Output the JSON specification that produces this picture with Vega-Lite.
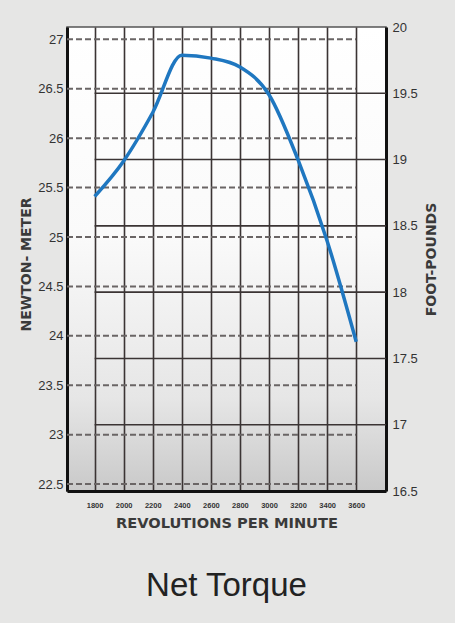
{
  "$schema": "https://vega.github.io/schema/vega-lite/v6.json",
  "width": 319,
  "height": 464,
  "autosize": {"type": "none"},
  "padding": {"left": 67, "top": 27, "right": 69, "bottom": 132},
  "background": "#e6e6e5",
  "title": {
    "text": "Net Torque",
    "orient": "bottom",
    "anchor": "middle",
    "font": "Liberation Sans",
    "fontSize": 33,
    "fontWeight": "normal",
    "color": "#222222",
    "offset": 40
  },
  "config": {
    "view": {
      "fill": {
        "gradient": "linear",
        "x1": 0, "y1": 0, "x2": 0, "y2": 1,
        "stops": [
          {"offset": 0, "color": "#ffffff"},
          {"offset": 0.45, "color": "#fafafa"},
          {"offset": 0.8, "color": "#e6e6e6"},
          {"offset": 1, "color": "#c9c9c9"}
        ]
      },
      "stroke": "#555555",
      "strokeWidth": 1.5
    },
    "axis": {
      "labelFont": "Liberation Sans",
      "labelColor": "#333333",
      "labelFontSize": 13,
      "titleFont": "DejaVu Sans",
      "titleFontWeight": "bold",
      "titleFontSize": 14,
      "titleColor": "#3a3a3a",
      "ticks": false,
      "grid": false,
      "domainColor": "#111111",
      "domainWidth": 3
    },
    "axisX": {
      "grid": true,
      "gridColor": "#3b3434",
      "gridWidth": 1.6,
      "labelFontSize": 7.5,
      "labelFontWeight": "bold",
      "labelPadding": 10,
      "titleFontSize": 14.6,
      "titlePadding": 7
    }
  },
  "resolve": {"scale": {"y": "independent"}},
  "layer": [
    {
      "data": {"values": [
        {"ftlb": 17}, {"ftlb": 17.5}, {"ftlb": 18}, {"ftlb": 18.5}, {"ftlb": 19}, {"ftlb": 19.5}
      ]},
      "mark": {"type": "rule", "color": "#3b3434", "strokeWidth": 1.6},
      "encoding": {
        "x": {
          "datum": 1800,
          "type": "quantitative",
          "scale": {"domain": [1610, 3805], "nice": false, "zero": false},
          "axis": {
            "title": "REVOLUTIONS PER MINUTE",
            "values": [1800, 2000, 2200, 2400, 2600, 2800, 3000, 3200, 3400, 3600],
            "format": "d"
          }
        },
        "x2": {"datum": 3805},
        "y": {
          "field": "ftlb",
          "type": "quantitative",
          "scale": {"domain": [16.5, 20], "nice": false, "zero": false},
          "axis": {
            "orient": "right",
            "title": "FOOT-POUNDS",
            "values": [16.5, 17, 17.5, 18, 18.5, 19, 19.5, 20],
            "format": ".1~f",
            "labelPadding": 6,
            "titlePadding": 7,
            "titleAngle": 270,
            "titleBaseline": "top"
          }
        }
      }
    },
    {
      "layer": [
        {
          "data": {"values": [
            {"nm": 22.5}, {"nm": 23}, {"nm": 23.5}, {"nm": 24}, {"nm": 24.5},
            {"nm": 25}, {"nm": 25.5}, {"nm": 26}, {"nm": 26.5}, {"nm": 27}
          ]},
          "mark": {"type": "rule", "color": "#6a6565", "strokeWidth": 2, "strokeDash": [6, 3]},
          "encoding": {
            "x": {
              "datum": 1610,
              "type": "quantitative",
              "scale": {"domain": [1610, 3805], "nice": false, "zero": false},
              "axis": {
                "title": "REVOLUTIONS PER MINUTE",
                "values": [1800, 2000, 2200, 2400, 2600, 2800, 3000, 3200, 3400, 3600],
                "format": "d"
              }
            },
            "x2": {"datum": 3600},
            "y": {
              "field": "nm",
              "type": "quantitative",
              "scale": {"domain": [22.43, 27.125], "nice": false, "zero": false},
              "axis": {
                "orient": "left",
                "title": "NEWTON- METER",
                "values": [22.5, 23, 23.5, 24, 24.5, 25, 25.5, 26, 26.5, 27],
                "format": ".1~f",
                "labelPadding": 4,
                "titlePadding": 4,
                "titleY": 237
              }
            }
          }
        },
        {
          "data": {"values": [
            {"rpm": 1800, "nm": 25.41},
            {"rpm": 2000, "nm": 25.77},
            {"rpm": 2200, "nm": 26.26},
            {"rpm": 2400, "nm": 26.84},
            {"rpm": 2600, "nm": 26.81},
            {"rpm": 2800, "nm": 26.72},
            {"rpm": 3000, "nm": 26.44},
            {"rpm": 3200, "nm": 25.78},
            {"rpm": 3400, "nm": 24.96},
            {"rpm": 3600, "nm": 23.94}
          ]},
          "mark": {"type": "line", "color": "#1f77c0", "strokeWidth": 3.5, "interpolate": "monotone"},
          "encoding": {
            "x": {
              "field": "rpm",
              "type": "quantitative",
              "scale": {"domain": [1610, 3805], "nice": false, "zero": false},
              "axis": {
                "title": "REVOLUTIONS PER MINUTE",
                "values": [1800, 2000, 2200, 2400, 2600, 2800, 3000, 3200, 3400, 3600],
                "format": "d"
              }
            },
            "y": {
              "field": "nm",
              "type": "quantitative",
              "scale": {"domain": [22.43, 27.125], "nice": false, "zero": false},
              "axis": {
                "orient": "left",
                "title": "NEWTON- METER",
                "values": [22.5, 23, 23.5, 24, 24.5, 25, 25.5, 26, 26.5, 27],
                "format": ".1~f",
                "labelPadding": 4,
                "titlePadding": 4,
                "titleY": 237
              }
            }
          }
        }
      ]
    }
  ]
}
